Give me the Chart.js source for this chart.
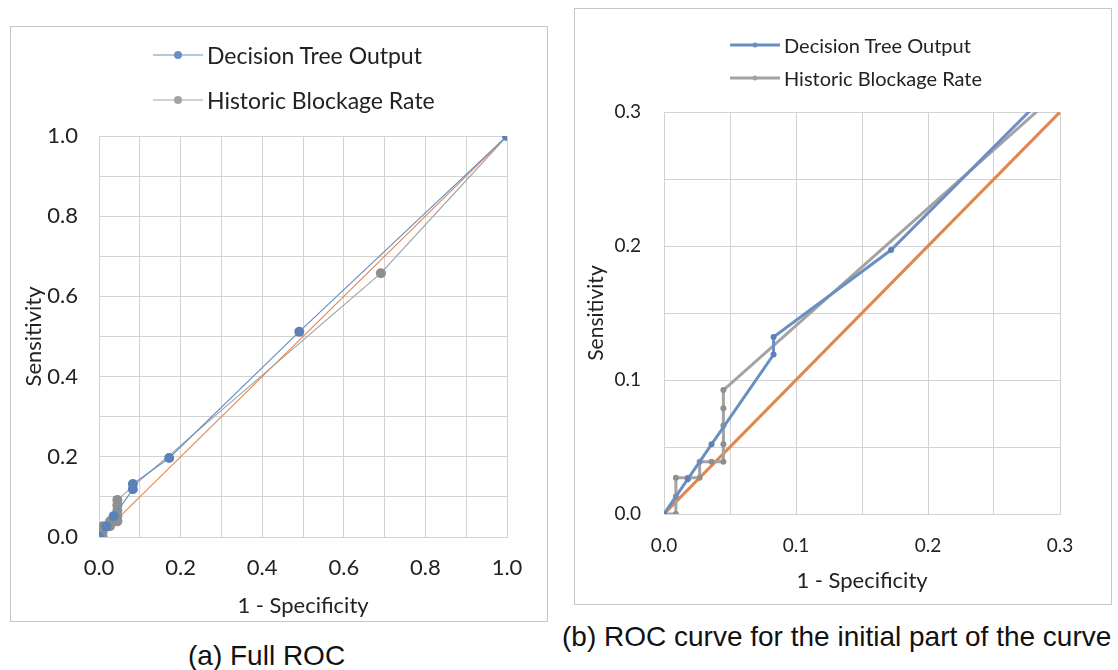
<!DOCTYPE html>
<html>
<head>
<meta charset="utf-8">
<script src="https://cdn.jsdelivr.net/npm/chart.js@4.4.1/dist/chart.umd.min.js"></script>
<style>
  body { margin: 0; background: #fff; width: 1118px; height: 670px; position: relative; overflow: hidden; }
  .panel { position: absolute; border: 1px solid #c6c6c6; box-sizing: border-box; }
  .panel canvas { position: absolute; left: 0; top: 0; }
  .legend { position: absolute; font-family: Lato, "Open Sans", sans-serif; color: #222; }
  .legend .row { display: flex; align-items: center; white-space: nowrap; }
  .legend canvas { position: static; margin-right: 4px; }
  .caption { position: absolute; font-family: "Liberation Sans", Arial, sans-serif; font-size: 28px; line-height: 32px; color: #111; white-space: nowrap; }
</style>
</head>
<body>
<div class="panel" id="panelA" style="left:10px;top:26px;width:538px;height:596px;">
  <canvas id="chartA" width="536" height="594"></canvas>
  <div class="legend" id="legendA" style="left:142px;top:5px;font-size:23px;"></div>
</div>
<div class="panel" id="panelB" style="left:574px;top:8px;width:538px;height:597px;">
  <canvas id="chartB" width="536" height="595"></canvas>
  <div class="legend" id="legendB" style="left:155px;top:19px;font-size:20px;"></div>
</div>
<div class="caption" style="left:188px;top:640px;">(a) Full ROC</div>
<div class="caption" style="left:562px;top:621px;">(b) ROC curve for the initial part of the curve</div>

<script>
// series (1 - specificity, sensitivity)
const treeX = [0, 0.018, 0.036, 0.083, 0.083, 0.172, 0.491, 1];
const treeY = [0, 0.026, 0.052, 0.119, 0.132, 0.197, 0.512, 1];
const histX = [0, 0.009, 0.009, 0.009, 0.018, 0.027, 0.027, 0.036, 0.045, 0.045, 0.045, 0.045, 0.045, 0.691, 1];
const histY = [0, 0, 0.013, 0.027, 0.027, 0.027, 0.039, 0.039, 0.039, 0.052, 0.066, 0.079, 0.0925, 0.658, 1];
const diagX = [0, 1];
const diagY = [0, 1];
const seriesNames = ['Decision Tree Output', 'Historic Blockage Rate'];
const fullTicks = [0, 0.2, 0.4, 0.6, 0.8, 1.0];
const zoomTicks = [0, 0.1, 0.2, 0.3];

const BLUE = '#6a8fc1', BLUE_PT = '#5a82b8';
const GREY = '#a3a3a3', GREY_PT = '#8f8f8f';
const ORANGE = '#e3864d';
const GRID = '#d2d2d2';

const pts = (xs, ys) => xs.map((x, i) => ({ x, y: ys[i] }));

function near(v, list) {
  return list.some(t => Math.abs(t - v) < 1e-6);
}

function legendSymbol(color, lw, r) {
  const c = document.createElement('canvas');
  c.width = 50; c.height = 12;
  const g = c.getContext('2d');
  g.strokeStyle = color; g.lineWidth = lw;
  g.beginPath(); g.moveTo(0, 6); g.lineTo(50, 6); g.stroke();
  g.fillStyle = color;
  g.beginPath(); g.arc(25, 6, r, 0, Math.PI * 2); g.fill();
  return c;
}

function buildLegend(id, colors, lw, r, gap) {
  const box = document.getElementById(id);
  seriesNames.forEach((name, i) => {
    const row = document.createElement('div');
    row.className = 'row';
    row.style.height = gap + 'px';
    row.appendChild(legendSymbol(colors[i], lw, r));
    const span = document.createElement('span');
    span.textContent = name;
    row.appendChild(span);
    box.appendChild(row);
  });
}

function makeChart(id, cfg) {
  const tickFont = { family: 'Lato, "Open Sans", sans-serif', size: cfg.tickSize };
  const xFont = { family: 'Lato, "Open Sans", sans-serif', size: cfg.xTitleSize };
  const yFont = { family: 'Lato, "Open Sans", sans-serif', size: cfg.yTitleSize };
  return new Chart(document.getElementById(id), {
    type: 'line',
    data: {
      datasets: [
        { data: pts(treeX, treeY), borderColor: BLUE, backgroundColor: BLUE_PT, pointBackgroundColor: BLUE_PT,
          pointBorderWidth: 0, borderWidth: cfg.lw, pointRadius: cfg.pr, tension: 0, order: 1 },
        { data: pts(histX, histY), borderColor: GREY, backgroundColor: GREY_PT, pointBackgroundColor: GREY_PT,
          pointBorderWidth: 0, borderWidth: cfg.lw, pointRadius: cfg.pr, tension: 0, order: 2 },
        { data: pts(diagX, diagY), borderColor: ORANGE, borderWidth: cfg.dlw, pointRadius: 0, tension: 0, order: 3 }
      ]
    },
    options: {
      responsive: false,
      animation: false,
      layout: { padding: cfg.pad },
      plugins: { legend: { display: false }, tooltip: { enabled: false } },
      scales: {
        x: {
          type: 'linear', min: 0, max: cfg.max,
          afterFit: s => { s.height = cfg.xh; },
          grid: { color: GRID, drawTicks: false },
          border: { color: GRID },
          ticks: { stepSize: cfg.step, autoSkip: false, maxRotation: 0, padding: cfg.xtp, color: '#222', font: tickFont,
            callback: v => near(v, cfg.labels) ? v.toFixed(1) : '' },
          title: { display: true, text: '1 - Specificity', color: '#222', font: xFont, padding: { top: 0, bottom: cfg.xtt } }
        },
        y: {
          type: 'linear', min: 0, max: cfg.max,
          afterFit: s => { s.width = cfg.yw; },
          grid: { color: GRID, drawTicks: false },
          border: { color: GRID },
          ticks: { stepSize: cfg.step, autoSkip: false, padding: cfg.ytp, color: '#222', font: tickFont,
            callback: v => near(v, cfg.labels) ? v.toFixed(1) : '' },
          title: { display: true, text: 'Sensitivity', color: '#222', font: yFont, padding: { top: cfg.ytt, bottom: 0 } }
        }
      }
    }
  });
}

makeChart('chartA', {
  max: 1, step: 0.1, labels: fullTicks, tickSize: 22, xTitleSize: 22, yTitleSize: 22,
  lw: 1.2, dlw: 1.1, pr: 5,
  pad: { top: 109, right: 40, left: 0, bottom: 0 }, xh: 84, yw: 88,
  xtp: 18, ytp: 21, xtt: 2, ytt: 10
});
makeChart('chartB', {
  max: 0.3, step: 0.05, labels: zoomTicks, tickSize: 19, xTitleSize: 22, yTitleSize: 21,
  lw: 3, dlw: 3, pr: 3,
  pad: { top: 103, right: 51, left: 0, bottom: 0 }, xh: 90, yw: 89,
  xtp: 20, ytp: 23, xtt: 10, ytt: 9
});

buildLegend('legendA', [BLUE, GREY], 1.2, 4, 45);
buildLegend('legendB', [BLUE, GREY], 3, 2.5, 33);
</script>
</body>
</html>
